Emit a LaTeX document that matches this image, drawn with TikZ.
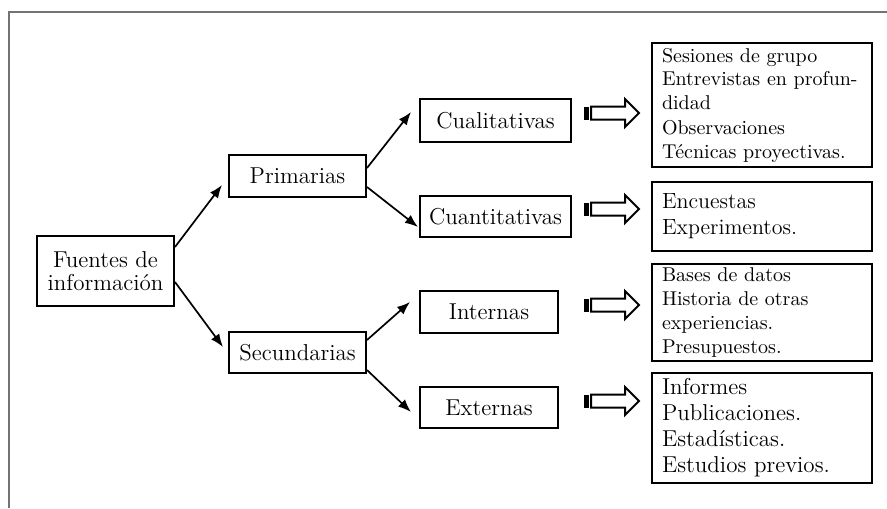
\documentclass[tikz,border=0pt]{standalone}
\usepackage{tikz}
\usetikzlibrary{arrows.meta}

\begin{document}
\begin{tikzpicture}[x=0.5pt, y=-0.5pt, font=\fontsize{11.5}{11.5}\selectfont,
  box/.style={draw, line width=1pt, align=center, inner sep=0pt},
  list/.style={draw, line width=1pt, align=left, inner xsep=5pt, inner ysep=0pt, text width=100pt},
  link/.style={-{Latex[length=6.5pt,width=5pt]}, line width=0.85pt},
  frame/.style={draw=black!55, line width=0.7pt},
  blockarrow/.pic={
    \fill (0,-6.5) rectangle (5,6.5);
    \draw[line width=1pt] (7,-6.5) -- (41,-6.5) -- (41,-14) -- (55,0) -- (41,14) -- (41,6.5) -- (7,6.5) -- cycle;
  },
]
\useasboundingbox (0,0) rectangle (887,508);
\draw[frame] (887,12) -- (9,12) -- (9,508);

\node[box, minimum width=68.5pt, minimum height=35pt] (fuentes) at (105.5,271) {Fuentes de\\información};
\node[box, minimum width=68.5pt, minimum height=21pt] (prim) at (297.5,176) {Primarias};
\node[box, minimum width=68.5pt, minimum height=20.5pt] (secu) at (297.5,352.5) {Secundarias};
\node[box, minimum width=75.5pt, minimum height=21.5pt] (cual) at (495.5,120.5) {Cualitativas};
\node[box, minimum width=75.5pt, minimum height=20.5pt] (cuan) at (495.5,216.5) {Cuantitativas};
\node[box, minimum width=69pt, minimum height=21pt] (inte) at (489,312) {Internas};
\node[box, minimum width=69pt, minimum height=20.5pt] (exte) at (489,407.5) {Externas};

\node[list, minimum height=62pt, font=\fontsize{10}{12}\selectfont] (sesiones) at (762,105)
  {Sesiones de grupo\\Entrevistas en profun-\\didad\\Observaciones\\Técnicas proyectivas.};
\node[list, minimum height=34.5pt, font=\fontsize{11}{13}\selectfont] (encuestas) at (762,216.5)
  {Encuestas\\Experimentos.};
\node[list, minimum height=48.5pt, font=\fontsize{10}{12}\selectfont] (bases) at (762,312.5)
  {Bases de datos\\Historia de otras\\experiencias.\\Presupuestos.};
\node[list, minimum height=55pt, font=\fontsize{11.5}{13}\selectfont] (informes) at (762,428)
  {Informes\\Publicaciones.\\Estadísticas.\\Estudios previos.};

\draw[link] ([yshift=12pt]fuentes.east) -- ([xshift=-3pt,yshift=-4.5pt]prim.west);
\draw[link] ([yshift=-5.5pt]fuentes.east) -- ([xshift=-2.5pt,yshift=2.75pt]secu.west);
\draw[link] ([yshift=4pt]prim.east) -- ([xshift=-4pt,yshift=4.25pt]cual.west);
\draw[link] ([yshift=-5.5pt]prim.east) -- ([xshift=-0.5pt,yshift=-5.25pt]cuan.west);
\draw[link] ([yshift=6.25pt]secu.east) -- ([xshift=-4.5pt,yshift=5pt]inte.west);
\draw[link] ([yshift=-8.75pt]secu.east) -- ([xshift=-4pt,yshift=-2.25pt]exte.west);

\pic (a1) at (584,113) {blockarrow};
\pic (a2) at (584,209) {blockarrow};
\pic (a3) at (584,305) {blockarrow};
\pic (a4) at (584,401) {blockarrow};
\end{tikzpicture}
\end{document}
